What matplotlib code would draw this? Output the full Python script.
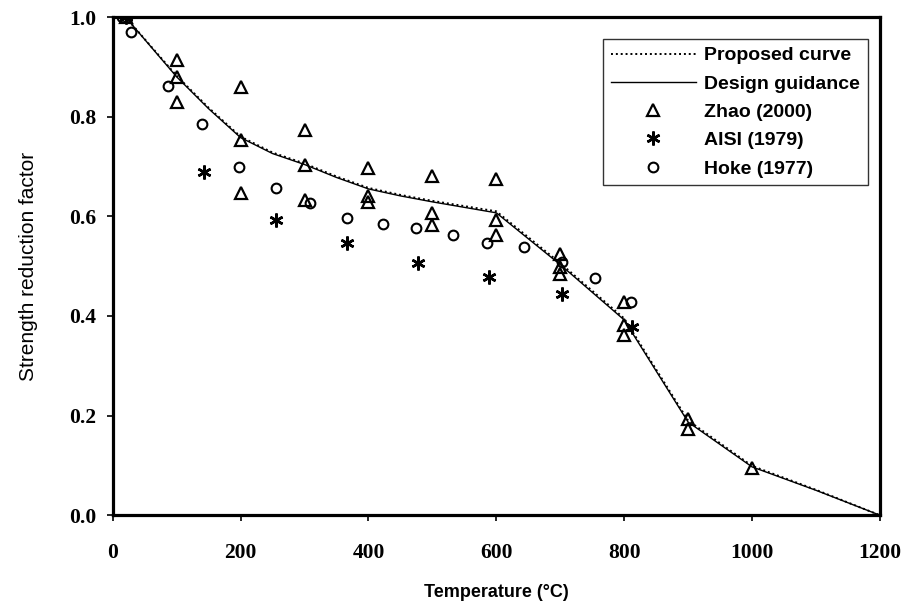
import numpy as np
import matplotlib.pyplot as plt

# Curves
temp_curve = [20, 100, 150, 200, 250, 300, 350, 400, 450, 500, 600, 700, 800, 900, 1000, 1100, 1200]
design_guidance = [1.0, 0.88, 0.816, 0.758, 0.726, 0.704, 0.678, 0.655, 0.641, 0.629, 0.607, 0.503, 0.392, 0.187, 0.097, 0.05, 0.0]
proposed_curve = [1.0, 0.882, 0.818, 0.760, 0.728, 0.706, 0.680, 0.657, 0.643, 0.631, 0.610, 0.506, 0.395, 0.190, 0.099, 0.051, 0.0]

# Test data
zhao_t = [20, 100, 100, 100, 200, 200, 200, 300, 300, 300, 400, 400, 400, 500, 500, 500,
          600, 600, 600, 700, 700, 700, 800, 800, 800, 900, 900, 1000]
zhao_k = [1.0, 0.913, 0.88, 0.83, 0.859, 0.754, 0.647, 0.774, 0.704, 0.633, 0.696, 0.64, 0.629,
          0.681, 0.606, 0.582, 0.674, 0.592, 0.562, 0.525, 0.499, 0.485, 0.428, 0.382, 0.361,
          0.194, 0.174, 0.094]

aisi_t = [20, 143, 256, 367, 478, 589, 703, 813]
aisi_k = [1.0, 0.689, 0.592, 0.546, 0.507, 0.479, 0.445, 0.377]

hoke_t = [14, 28, 87, 140, 198, 255, 309, 366, 422, 475, 532, 586, 644, 702, 755, 811]
hoke_k = [1.0, 0.97, 0.861, 0.785, 0.70, 0.656, 0.626, 0.596, 0.584, 0.576, 0.562, 0.547,
          0.539, 0.509, 0.477, 0.428]

plt.rcParams['font.family'] = 'Liberation Sans'

fig = plt.figure(figsize=(9.09, 6.09), dpi=100)
ax = fig.add_axes([0.124, 0.154, 0.844, 0.818])

ax.plot(temp_curve, proposed_curve, color='black', linestyle=(0, (1, 1.5)), linewidth=1.4,
        label='Proposed curve')
ax.plot(temp_curve, design_guidance, color='black', linestyle='-', linewidth=1.0,
        label='Design guidance')
ax.plot(zhao_t, zhao_k, linestyle='none', marker='^', markersize=8.5, markerfacecolor='none',
        markeredgecolor='black', markeredgewidth=1.6, label='Zhao (2000)')
ax.plot(aisi_t, aisi_k, linestyle='none', marker=(6, 2, 0), markersize=10,
        markeredgecolor='black', markeredgewidth=1.8, color='black', label='AISI (1979)')
ax.plot(hoke_t, hoke_k, linestyle='none', marker='o', markersize=7, markerfacecolor='none',
        markeredgecolor='black', markeredgewidth=1.5, label='Hoke (1977)')

ax.set_xlim(0, 1200)
ax.set_ylim(0, 1.0)
ax.set_xticks(np.arange(0, 1201, 200))
ax.set_yticks(np.arange(0, 1.01, 0.2))
ax.set_yticklabels(['%.1f' % v for v in np.arange(0, 1.01, 0.2)])

for s in ax.spines.values():
    s.set_linewidth(2.3)
ax.tick_params(axis='both', direction='out', length=4, width=1.2)
ax.tick_params(axis='x', pad=16)
ax.tick_params(axis='y', pad=8)
for lab in ax.get_xticklabels() + ax.get_yticklabels():
    lab.set_fontfamily('Liberation Serif')
    lab.set_fontweight('bold')
    lab.set_fontsize(15.5)

ax.set_xlabel('Temperature (°C)', fontsize=13, fontweight='bold', labelpad=15)
ax.set_ylabel('Strength reduction factor', fontsize=15, labelpad=22)

leg = ax.legend(loc='upper right', bbox_to_anchor=(0.984, 0.956), borderaxespad=0,
                prop={'size': 14, 'weight': 'bold'}, frameon=True, fancybox=False,
                edgecolor='black', handlelength=4.4, labelspacing=0.55, borderpad=0.4,
                handletextpad=0.4)
leg.get_frame().set_linewidth(1.0)

fig.savefig('out.png', dpi=100)
